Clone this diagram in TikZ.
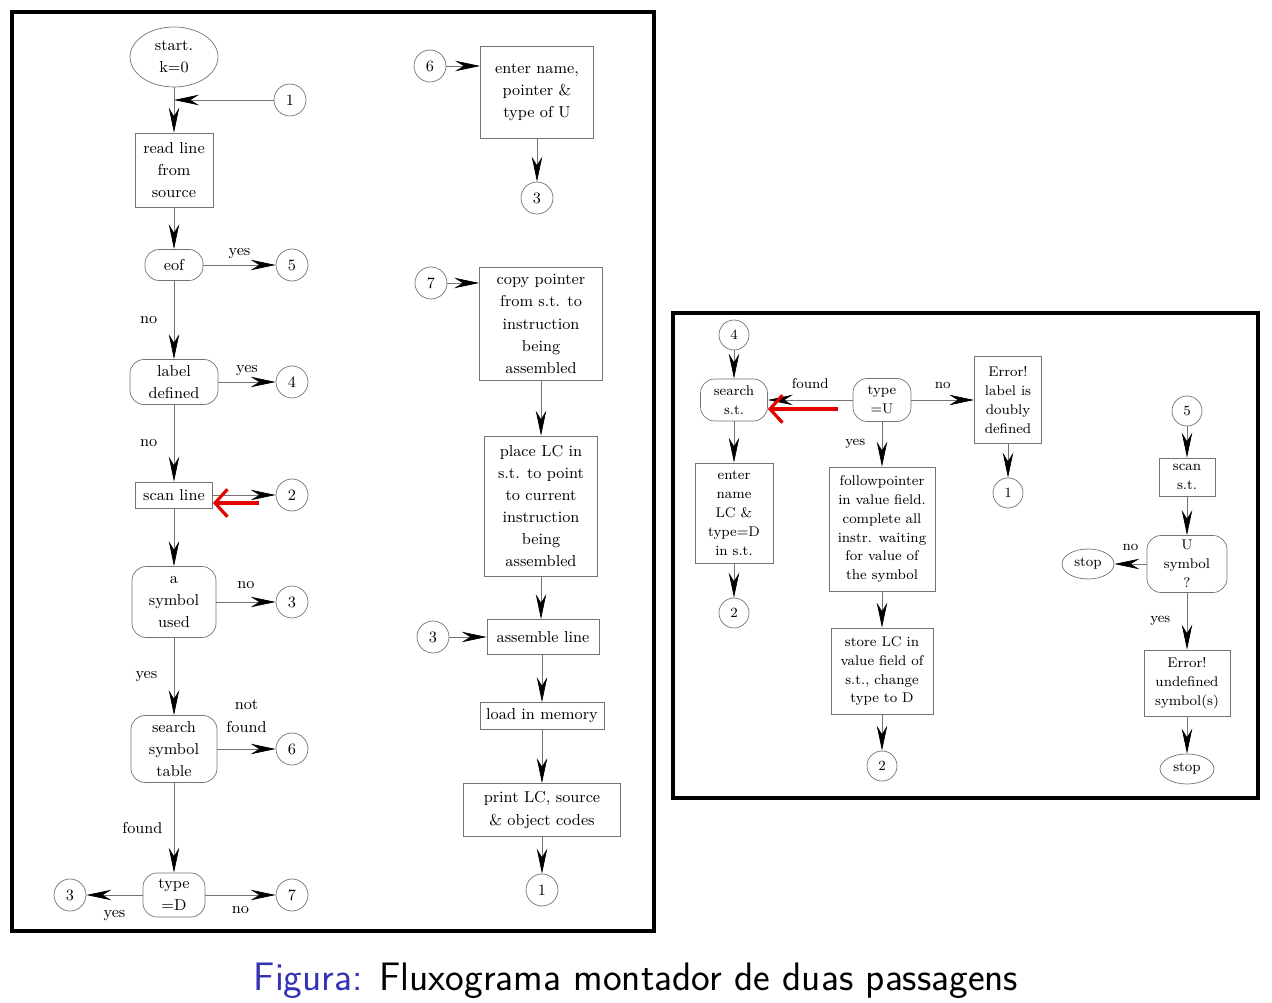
\documentclass[tikz,border=0pt]{standalone}
\usepackage{tikz}
\usetikzlibrary{arrows.meta,%
		shapes.geometric,%
		positioning}
\definecolor{capblue}{RGB}{51,51,179}

\begin{document}
\begin{tikzpicture}[x=0.02cm,y=-0.02cm,
  every node/.style={font=\fontsize{9}{12.6}\selectfont},
  box/.style={draw=black!55,rectangle,align=center,inner sep=1pt},
  rbox/.style={box,rounded corners=8pt},
  conn/.style={draw=black!55,circle,minimum size=0.64cm,inner sep=0pt},
  term/.style={draw=black!55,ellipse,align=center,inner sep=0pt},
  arr/.style={draw=black!55,-{Stealth[black,length=5mm,width=2.1mm,inset=1.7mm]}},
  redarr/.style={draw=red!90!black,line width=1.8pt,-{Straight Barb[length=2.5mm,width=5.5mm]}},
  small/.style={font=\fontsize{8}{10.8}\selectfont},
  frame/.style={line width=2.4pt}]

  \useasboundingbox (0,0) rectangle (1272,1003);
  \draw[frame] (12,12) rectangle (654,931);
  \draw[frame] (673,313) rectangle (1258,798);

  \node[term,minimum width=1.76cm,minimum height=1.2cm] (start) at (174,57) {start.\\k=0};
  \node[conn] (c1a) at (290,100) {1};
  \node[box,minimum width=1.56cm,minimum height=1.48cm] (read) at (174,170) {read line\\from\\source};
  \node[rbox,minimum width=1.16cm,minimum height=0.62cm] (eof) at (174,265) {eof};
  \node[conn] (c5a) at (292,265) {5};
  \node[rbox,minimum width=1.76cm,minimum height=0.9cm] (labdef) at (174,382) {label\\defined};
  \node[conn] (c4a) at (292,382) {4};
  \node[box,minimum width=1.54cm,minimum height=0.52cm] (scan) at (174,495) {scan line};
  \node[conn] (c2a) at (292,495) {2};
  \node[rbox,minimum width=1.68cm,minimum height=1.42cm] (symused) at (174,602) {a\\symbol\\used};
  \node[conn] (c3a) at (292,602) {3};
  \node[rbox,minimum width=1.72cm,minimum height=1.34cm] (search) at (174,749) {search\\symbol\\table};
  \node[conn] (c6a) at (292,749) {6};
  \node[rbox,minimum width=1.24cm,minimum height=0.88cm] (typeD) at (174,895) {type\\=D};
  \node[conn] (c3b) at (70,895) {3};
  \node[conn] (c7a) at (292,895) {7};

  \draw[arr] (start) -- (read);
  \draw[arr] (c1a) -- (start.south |- c1a);
  \draw[arr] (read) -- (eof);
  \draw[arr] (eof) -- node[midway,above] {yes} (c5a);
  \draw[arr] (eof) -- node[midway,left=6pt] {no} (labdef);
  \draw[arr] (labdef) -- node[midway,above] {yes} (c4a);
  \draw[arr] (labdef) -- node[midway,left=6pt] {no} (scan);
  \draw[arr] (scan) -- (c2a);
  \draw[arr] (scan) -- (symused);
  \draw[arr] (symused) -- node[midway,above=4pt] {no} (c3a);
  \draw[arr] (symused) -- node[midway,left=6pt] {yes} (search);
  \draw[arr] (search) -- node[midway,above=6pt,align=center] {not\\found} (c6a);
  \draw[arr] (search) -- node[midway,left=3pt] {found} (typeD);
  \draw[arr] (typeD) -- node[midway,below=5pt] {yes} (c3b);
  \draw[arr] (typeD) -- node[midway,below=3pt] {no} (c7a);

  \coordinate (r1s) at (259,503);
  \draw[redarr] (r1s) -- (scan.east |- r1s);

  \node[conn] (c6m) at (430,66) {6};
  \node[box,minimum width=2.26cm,minimum height=1.84cm] (entname) at (537,92) {enter name,\\pointer \&\\type of U};
  \node[conn] (c3m) at (537,198) {3};
  \node[conn] (c7m) at (431,283) {7};
  \node[box,minimum width=2.46cm,minimum height=2.26cm] (copyptr) at (541,324) {copy pointer\\from s.t. to\\instruction\\being\\assembled};
  \node[box,minimum width=2.26cm,minimum height=2.8cm] (placelc) at (541,506) {place LC in\\s.t. to point\\to current\\instruction\\being\\assembled};
  \node[conn] (c3c) at (433,637) {3};
  \node[box,minimum width=2.24cm,minimum height=0.7cm] (asmline) at (543,637) {assemble line};
  \node[box,minimum width=2.48cm,minimum height=0.54cm] (loadmem) at (542,716) {load in memory};
  \node[box,minimum width=3.14cm,minimum height=1.06cm] (printlc) at (542,810) {print LC, source\\\& object codes};
  \node[conn] (c1m) at (542,890) {1};

  \draw[arr] (c6m) -- (c6m -| entname.west);
  \draw[arr] (entname) -- (c3m);
  \draw[arr] (c7m) -- (c7m -| copyptr.west);
  \draw[arr] (copyptr) -- (placelc);
  \draw[arr] (placelc.south) -- (placelc.south |- asmline.north);
  \draw[arr] (c3c) -- (asmline);
  \draw[arr] (asmline.south -| loadmem) -- (loadmem);
  \draw[arr] (loadmem) -- (printlc);
  \draw[arr] (printlc) -- (c1m);

  \node[conn,small,minimum size=0.6cm] (c4r) at (734,335) {4};
  \node[rbox,small,minimum width=1.34cm,minimum height=0.84cm] (srchst) at (734,400) {search\\s.t.};
  \node[rbox,small,minimum width=1.16cm,minimum height=0.86cm] (typeU) at (882,400) {type\\=U};
  \node[box,small,minimum width=1.34cm,minimum height=1.74cm] (errdbl) at (1008,400) {Error!\\label is\\doubly\\defined};
  \node[conn,small,minimum size=0.6cm] (c1r) at (1008,493) {1};
  \node[box,small,minimum width=1.56cm,minimum height=2.0cm] (entlc) at (734,513) {enter\\name\\LC \&\\type=D\\in s.t.};
  \node[conn,small,minimum size=0.6cm] (c2r) at (734,613) {2};
  \node[box,small,minimum width=2.12cm,minimum height=2.48cm] (follow) at (882,529) {followpointer\\in value field.\\complete all\\instr. waiting\\for value of\\the symbol};
  \node[box,small,minimum width=2.04cm,minimum height=1.72cm] (storelc) at (882,671) {store LC in\\value field of\\s.t., change\\type to D};
  \node[conn,small,minimum size=0.6cm] (c2s) at (882,766) {2};
  \node[conn,small,minimum size=0.6cm] (c5r) at (1187,411) {5};
  \node[box,small,minimum width=1.12cm,minimum height=0.76cm] (scanst) at (1187,477) {scan\\s.t.};
  \node[rbox,small,minimum width=1.6cm,minimum height=1.14cm] (usym) at (1187,564) {U\\symbol\\?};
  \node[term,small,minimum width=1.04cm,minimum height=0.6cm] (stopa) at (1088,564) {stop};
  \node[box,small,minimum width=1.72cm,minimum height=1.32cm] (errund) at (1187,683) {Error!\\undefined\\symbol(s)};
  \node[term,small,minimum width=1.08cm,minimum height=0.6cm] (stopb) at (1187,769) {stop};

  \draw[arr] (c4r) -- (srchst);
  \draw[arr] (srchst) -- (entlc);
  \draw[arr] (entlc) -- (c2r);
  \draw[arr] (typeU) -- node[midway,above=3pt,small] {found} (srchst);
  \draw[arr] (typeU) -- node[midway,above=3pt,small] {no} (errdbl);
  \draw[arr] (errdbl) -- (c1r);
  \draw[arr] (typeU) -- node[midway,left=6pt,small] {yes} (follow);
  \draw[arr] (follow) -- (storelc);
  \draw[arr] (storelc) -- (c2s);
  \draw[arr] (c5r) -- (scanst);
  \draw[arr] (scanst) -- (usym);
  \draw[arr] (usym) -- node[midway,above=4pt,small] {no} (stopa);
  \draw[arr] (usym) -- node[midway,left=6pt,small] {yes} (errund);
  \draw[arr] (errund) -- (stopb);

  \coordinate (r2s) at (838,409);
  \draw[redarr] (r2s) -- (srchst.east |- r2s);

  \node (cap) at (636,981) {\fontsize{22.6}{27}\selectfont\sffamily\textcolor{capblue}{Figura:} Fluxograma montador de duas passagens};

\end{tikzpicture}
\end{document}
